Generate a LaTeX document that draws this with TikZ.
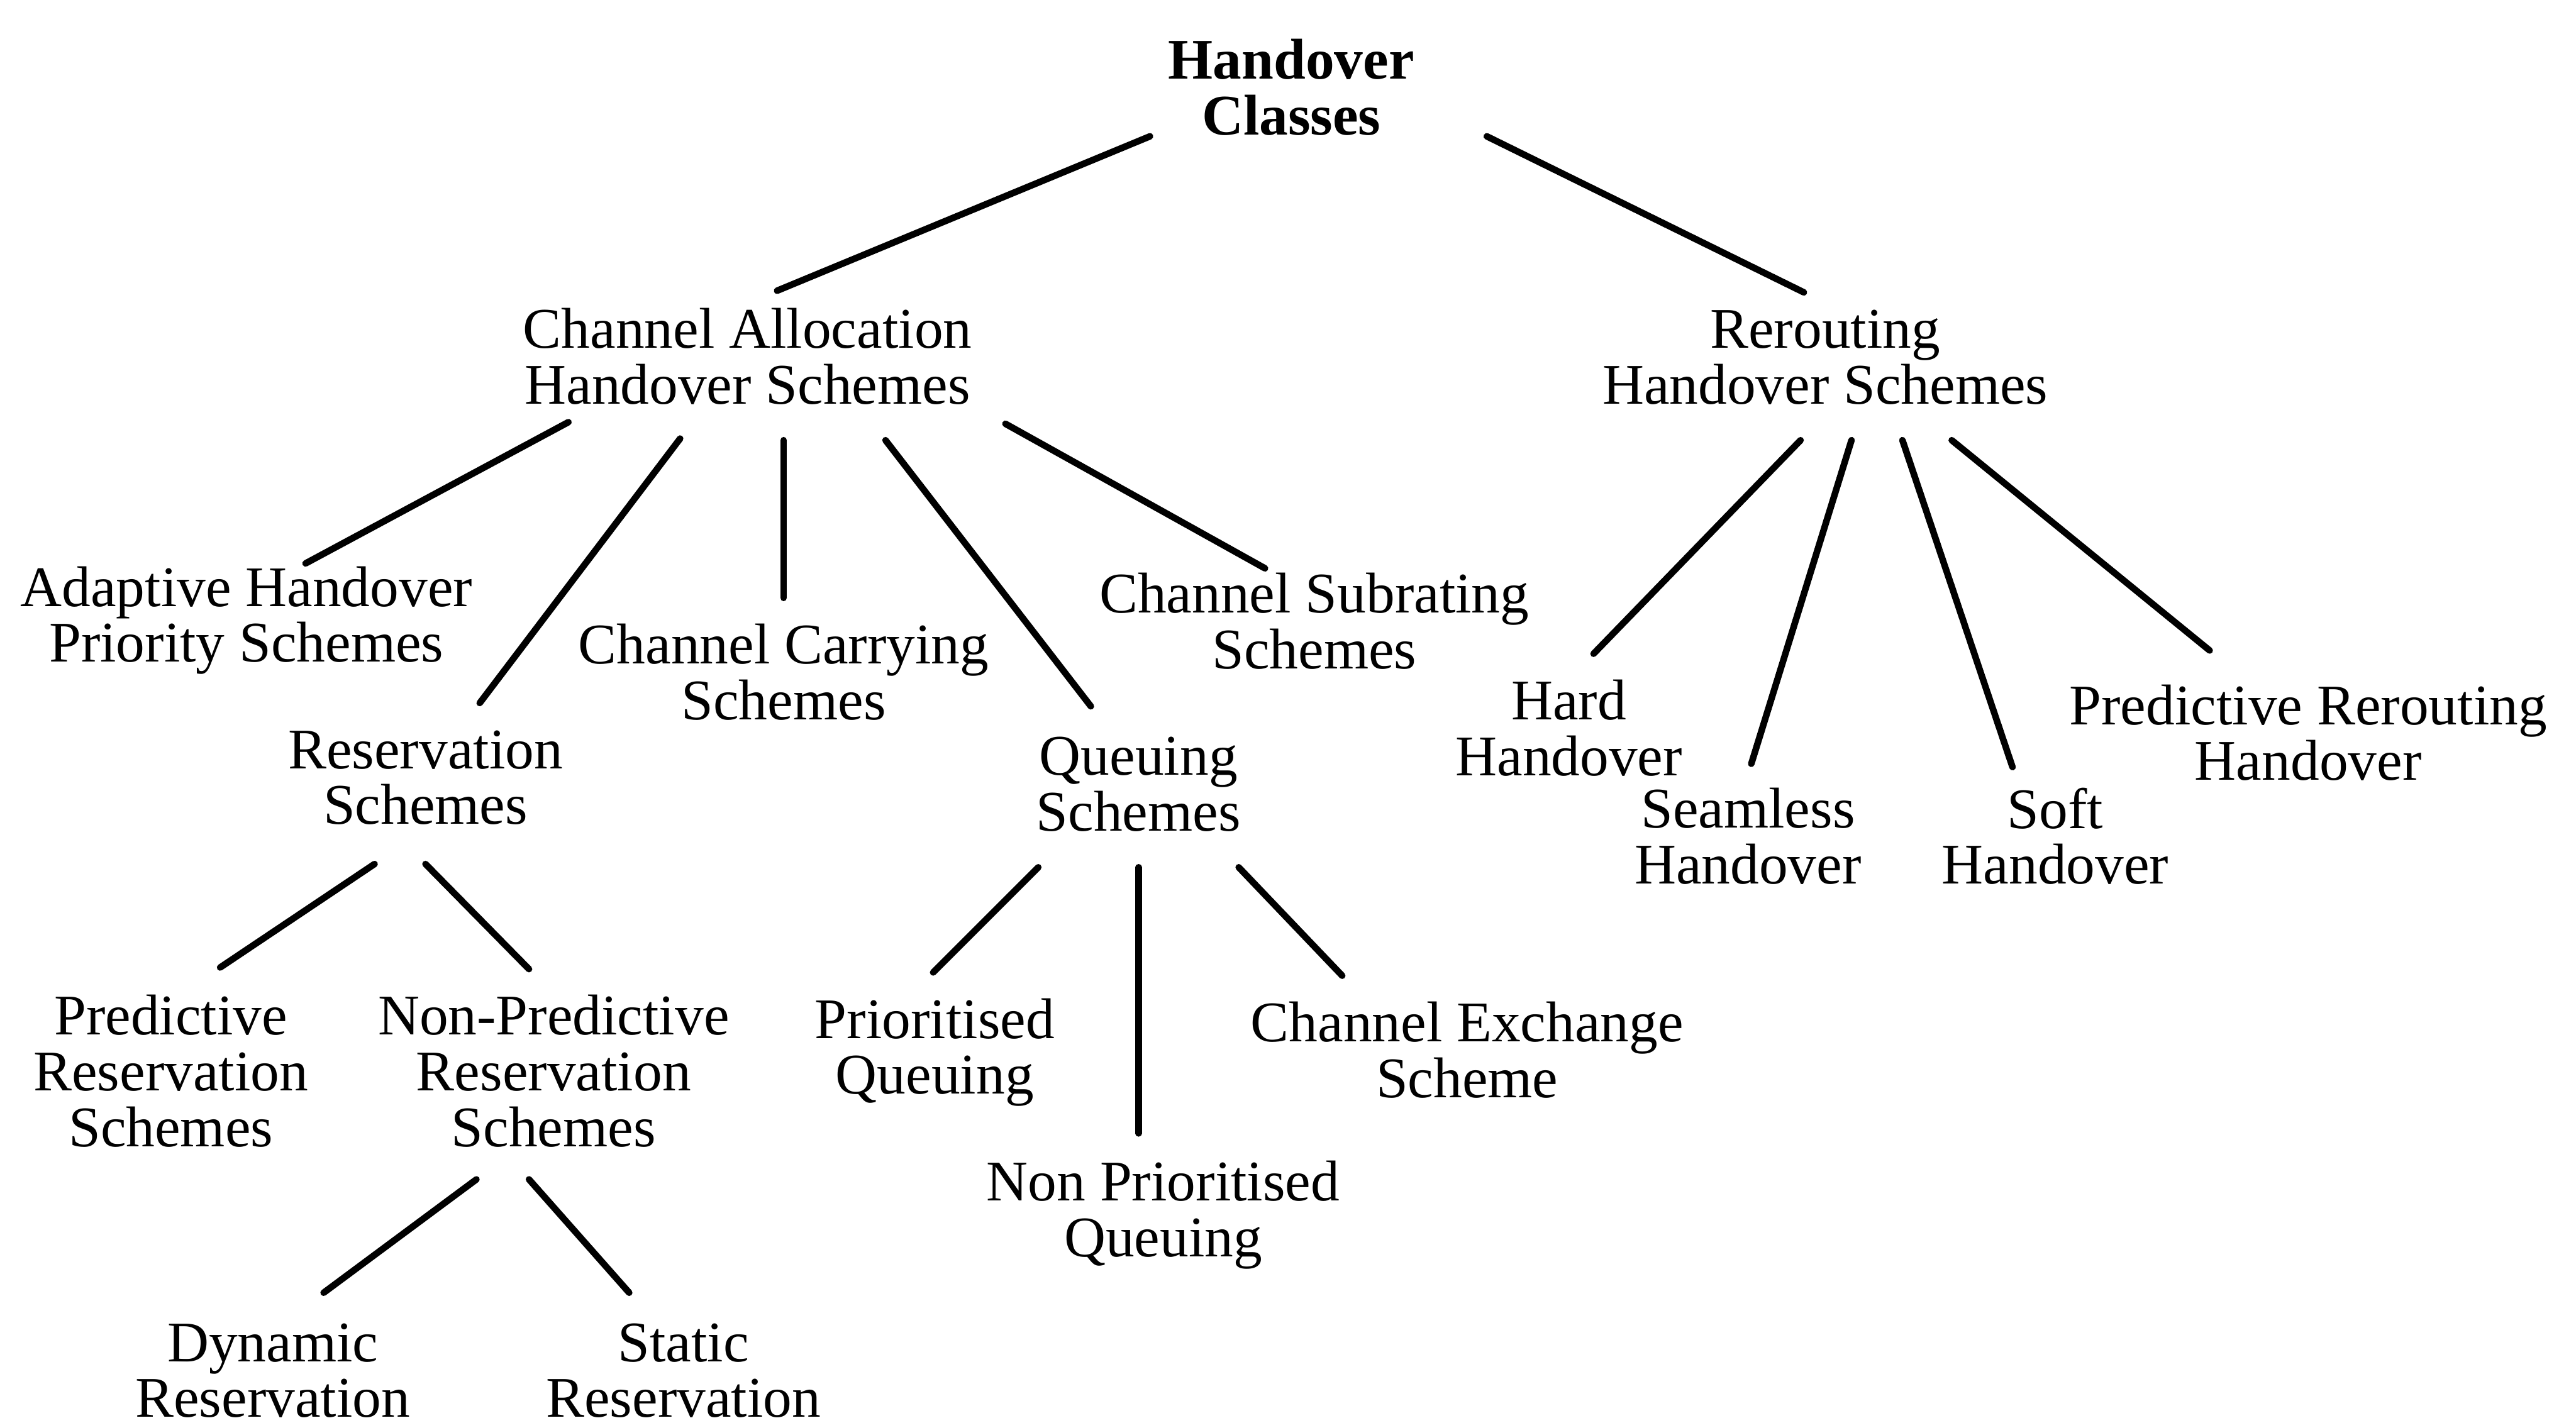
\documentclass[tikz,border=0pt]{standalone}
\usepackage{fontspec}
\setmainfont{Liberation Serif}
\usetikzlibrary{calc}
% fixed-size strut so every text line occupies exactly one baseline step
\newcommand\ls{\rule[-3.06pt]{0pt}{10.2pt}}
\begin{document}
\begin{tikzpicture}[x=0.3pt,y=-0.3pt,
  lbl/.style={inner sep=0pt,align=center,font=\fontsize{10.5}{10.2}\selectfont,
    execute at begin node={\baselineskip=10.2pt\lineskip=0pt\lineskiplimit=-100pt}},
  branch/.style={line width=1.2pt,line cap=round}]
\useasboundingbox (0,0) rectangle (1568,866);
\fill[white] (0,0) rectangle (1568,866);
\clip (0,0) rectangle (1568,866);

% root and first level
\node[lbl,font=\fontsize{10.5}{10.2}\selectfont\bfseries] (hc) at (786,58) {\ls Handover\\\ls Classes};
\node[lbl] (cahs) at (455,222) {\ls Channel Allocation\\\ls Handover Schemes};
\node[lbl] (rhs) at (1111,222) {\ls Rerouting\\\ls Handover Schemes};

% channel allocation branch
\node[lbl] (adapt) at (150,379) {\ls Adaptive Handover\\\ls Priority Schemes};
\node[lbl] (carry) at (477,414) {\ls Channel Carrying\\\ls Schemes};
\node[lbl] (subr) at (800,383) {\ls Channel Subrating\\\ls Schemes};
\node[lbl] (resv) at (259,478) {\ls Reservation\\\ls Schemes};
\node[lbl] (queue) at (693,482) {\ls Queuing\\\ls Schemes};

% reservation branch
\node[lbl] (predres) at (104,657) {\ls Predictive\\\ls Reservation\\\ls Schemes};
\node[lbl] (nonpred) at (337,657) {\ls Non-Predictive\\\ls Reservation\\\ls Schemes};
\node[lbl] (dyn) at (166,839) {\ls Dynamic\\\ls Reservation};
\node[lbl] (stat) at (416,839) {\ls Static\\\ls Reservation};

% queuing branch
\node[lbl] (prio) at (569,642) {\ls Prioritised\\\ls Queuing};
\node[lbl] (exch) at (893,644) {\ls Channel Exchange\\\ls Scheme};
\node[lbl] (nonprio) at (708,741) {\ls Non Prioritised\\\ls Queuing};

% rerouting branch
\node[lbl] (hard) at (955,448) {\ls Hard\\\ls Handover};
\node[lbl] (seam) at (1064,514) {\ls Seamless\\\ls Handover};
\node[lbl] (soft) at (1251,514) {\ls Soft\\\ls Handover};
\node[lbl] (predrr) at (1405,451) {\ls Predictive Rerouting\\\ls Handover};

% connectors
\draw[branch] ($(hc)+(-86,25)$) -- ($(cahs)+(18,-45)$);
\draw[branch] ($(hc)+(119,25)$) -- ($(rhs)+(-13,-44)$);

\draw[branch] ($(cahs)+(-109,35)$) -- ($(adapt)+(36,-36)$);
\draw[branch] ($(cahs)+(-41,45)$) -- ($(resv)+(33,-50)$);
\draw[branch] ($(cahs)+(22,46)$) -- ($(carry)+(0,-50)$);
\draw[branch] ($(cahs)+(84,46)$) -- ($(queue)+(-29,-52)$);
\draw[branch] ($(cahs)+(157,36)$) -- ($(subr)+(-30,-37)$);

\draw[branch] ($(resv)+(-31,48)$) -- ($(predres)+(30,-68)$);
\draw[branch] ($(resv)+(0,48)$) -- ($(nonpred)+(-15,-67)$);
\draw[branch] ($(nonpred)+(-47,61)$) -- ($(dyn)+(31,-52)$);
\draw[branch] ($(nonpred)+(-15,61)$) -- ($(stat)+(-33,-52)$);

\draw[branch] ($(queue)+(-61,46)$) -- ($(prio)+(-1,-50)$);
\draw[branch] ($(queue)+(0,46)$) -- ($(nonprio)+(-15,-51)$);
\draw[branch] ($(queue)+(61,46)$) -- ($(exch)+(-76,-50)$);

\draw[branch] ($(rhs)+(-15,46)$) -- ($(hard)+(15,-50)$);
\draw[branch] ($(rhs)+(16,46)$) -- ($(seam)+(2,-49)$);
\draw[branch] ($(rhs)+(47,46)$) -- ($(soft)+(-26,-47)$);
\draw[branch] ($(rhs)+(77,46)$) -- ($(predrr)+(-60,-55)$);
\end{tikzpicture}
\end{document}
